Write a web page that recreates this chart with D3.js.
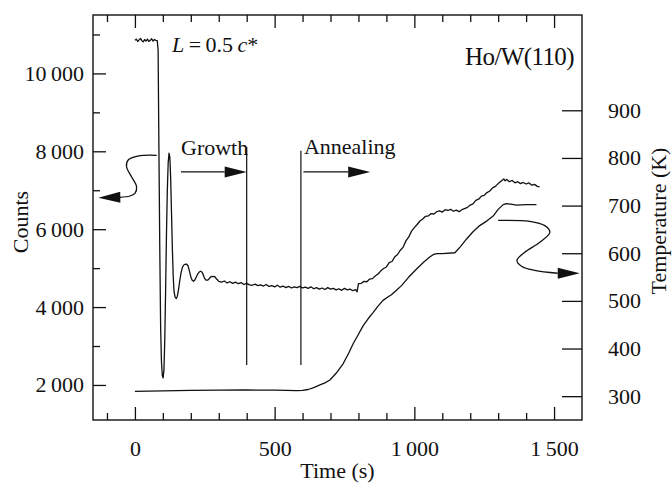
<!DOCTYPE html>
<html><head><meta charset="utf-8">
<script src="https://cdn.jsdelivr.net/npm/d3@7"></script>
<style>
html,body{margin:0;padding:0;background:#fff;}
svg{display:block;font-family:"Liberation Serif","Times New Roman",Times,serif;}
</style></head>
<body><svg id="chart" width="672" height="484"></svg>
<script>
// ---------- data ----------
const xTicksMajor = [0, 500, 1000, 1500];
const xTicksMinor = [-100, 100, 200, 300, 400, 600, 700, 800, 900, 1100, 1200, 1300, 1400];
const countTicksMajor = [2000, 4000, 6000, 8000, 10000];
const countTicksMinor = [3000, 5000, 7000, 9000, 11000];
const tempTicks = [300, 400, 500, 600, 700, 800, 900];

const countTimes = [0,5,10,15,20,25,30,35,40,45,50,55,60,65,70,75,80,
  83,86,89,92,95,98,101,104,107,110,113,116,119,122,125,128,131,134,137,140,144,148,
  152,156,160,165,170,175,180,185,190,195,200,205,210,215,220,225,230,235,240,245,250,255,260,265,270,275,280,285,290,295,
  300,310,320,330,340,350,360,370,380,390,400,410,420,430,440,450,460,470,480,490,
  500,510,520,530,540,550,560,570,580,590,600,610,620,630,640,650,660,670,680,690,
  700,710,720,730,740,750,760,770,780,790,795,
  800,810,820,830,840,850,860,870,880,890,900,910,920,930,940,950,960,970,980,990,
  1000,1010,1020,1030,1040,1050,1060,1070,1080,1090,1100,1110,1120,1130,1140,1150,1160,1170,1180,1190,
  1200,1210,1220,1230,1240,1250,1260,1270,1280,1290,1300,1310,1320,1325,1330,1340,1350,1360,1370,1380,1390,
  1400,1410,1420,1430,1440,1448];
const countValues = [10850,10880,10820,10860,10900,10840,10810,10870,10830,10880,10820,10850,10890,10830,10870,10850,10840,
  10600,8000,5500,3500,2600,2250,2180,2400,3200,4500,5900,7000,7700,7950,7850,7300,6400,5500,4800,4400,4250,4220,
  4280,4450,4650,4880,5020,5080,5100,5100,5060,4930,4780,4690,4660,4700,4780,4850,4900,4920,4900,4820,4730,4690,4690,4720,4770,4790,4780,4790,4740,4700,
  4660,4640,4670,4620,4650,4610,4640,4600,4630,4580,4610,4570,4560,4590,4550,4570,4540,4580,4530,4550,
  4520,4560,4510,4540,4500,4530,4490,4520,4500,4530,4490,4510,4480,4520,4470,4500,4460,4490,4450,4500,
  4460,4480,4440,4470,4430,4480,4440,4460,4420,4450,4390,
  4600,4610,4660,4650,4720,4730,4800,4850,4930,4990,5030,5140,5170,5290,5350,5460,5540,5700,5800,5950,
  6040,6120,6210,6260,6330,6340,6400,6390,6450,6470,6440,6500,6480,6510,6460,6490,6450,6500,6530,6560,
  6620,6650,6740,6770,6850,6870,6940,6980,7060,7100,7170,7230,7290,7240,7280,7220,7250,7190,7220,7170,7200,
  7160,7190,7130,7150,7100,7090];

const tempTimes = [0,100,200,300,400,500,580,600,620,640,660,680,698,720,745,765,781,800,817,835,853,870,888,905,918,935,954,980,1008,1035,1055,1067,1080,1100,1145,1165,1187,1210,1234,1260,1282,1300,1318,1330,1345,1366,1400,1437];
const tempValues = [310,311,312,312.5,313,312.5,311.5,312,314,318,323,328,334,348,368,390,410,430,448,463,476,489,501,508,513,522,532,550,567,582,592,597,599,599,601,614,630,645,658,668,678,692,702,704,703,701,702,702];

// annotations (time, counts) / (time, K)
const growthArrow = [[165, 7470], [400, 7470]];
const annealArrow = [[603, 7470], [842, 7470]];
const phaseLines = [[400, 2510, 8110], [594, 2510, 8015]];
const leftCurl = [[78,7897],[18,7887],[-24,7777],[-30,7604],[-12,7348],[6,7091],[0,6922],[-18,6852],[-54,6819]];
const leftCurlTip = [-131, 6810];
const rightCurl = [[1300,669],[1413,667],[1467,658],[1485,644],[1449,623],[1395,602],[1367,585],[1385,572],[1431,564],[1513,558]];
const rightCurlTip = [1592, 558];

// ---------- drawing ----------
const svg = d3.select("#chart");
const X0 = 93, X1 = 582, Y0 = 15, Y1 = 420;
const x = d3.scaleLinear().domain([-150, 1600]).range([X0, X1]);
const yC = d3.scaleLinear().domain([1100, 11500]).range([Y1, Y0]);
const yT = d3.scaleLinear().domain([250, 1100]).range([Y1, Y0]);

const loc = d3.formatLocale({decimal: ".", thousands: "\u2009", grouping: [3], currency: ["", ""]});
const fmt = loc.format(",");
const FS = 22;
const ink = "#111";
const FONT = "'Liberation Serif','Times New Roman',Times,serif";

function styleAxis(g) {
  g.attr("font-family", FONT);
  g.select(".domain").remove();
  g.selectAll(".tick line").attr("stroke", ink).attr("stroke-width", 1.3);
  g.selectAll(".tick text").attr("font-size", FS).attr("fill", ink);
}

// bottom
svg.append("g").attr("transform", `translate(0,${Y1})`)
  .call(d3.axisBottom(x).tickValues(xTicksMajor).tickSize(-13).tickPadding(20).tickFormat(fmt)).call(styleAxis);
svg.append("g").attr("transform", `translate(0,${Y1})`)
  .call(d3.axisBottom(x).tickValues(xTicksMinor).tickSize(-7).tickFormat("")).call(styleAxis);
// top
svg.append("g").attr("transform", `translate(0,${Y0})`)
  .call(d3.axisTop(x).tickValues(xTicksMajor).tickSize(-13).tickFormat("")).call(styleAxis);
svg.append("g").attr("transform", `translate(0,${Y0})`)
  .call(d3.axisTop(x).tickValues(xTicksMinor).tickSize(-7).tickFormat("")).call(styleAxis);
// left
svg.append("g").attr("transform", `translate(${X0},0)`)
  .call(d3.axisLeft(yC).tickValues(countTicksMajor).tickSize(-13).tickPadding(9).tickFormat(fmt)).call(styleAxis);
svg.append("g").attr("transform", `translate(${X0},0)`)
  .call(d3.axisLeft(yC).tickValues(countTicksMinor).tickSize(-7).tickFormat("")).call(styleAxis);
// right
svg.append("g").attr("transform", `translate(${X1},0)`)
  .call(d3.axisRight(yT).tickValues(tempTicks).tickSize(-20).tickPadding(26).tickFormat(d3.format("d"))).call(styleAxis);

// frame
svg.append("rect").attr("x", X0).attr("y", Y0).attr("width", X1 - X0).attr("height", Y1 - Y0)
  .attr("fill", "none").attr("stroke", ink).attr("stroke-width", 1.4);

// curves
const lineC = d3.line().x((d, i) => x(countTimes[i])).y(d => yC(d));
svg.append("path").datum(countValues).attr("d", lineC)
  .attr("fill", "none").attr("stroke", ink).attr("stroke-width", 1.3).attr("stroke-linejoin", "round");
const lineT = d3.line().x((d, i) => x(tempTimes[i])).y(d => yT(d));
svg.append("path").datum(tempValues).attr("d", lineT)
  .attr("fill", "none").attr("stroke", ink).attr("stroke-width", 1.3).attr("stroke-linejoin", "round");

// phase lines
phaseLines.forEach(([t, c0, c1]) => {
  svg.append("line").attr("x1", x(t)).attr("x2", x(t)).attr("y1", yC(c0)).attr("y2", yC(c1))
    .attr("stroke", ink).attr("stroke-width", 1.2);
});

// arrowhead helper (pixel tip, direction from previous point)
function arrowHead(tipPx, fromPx, len, half) {
  const dx = tipPx[0] - fromPx[0], dy = tipPx[1] - fromPx[1];
  const L = Math.hypot(dx, dy), ux = dx / L, uy = dy / L;
  const bx = tipPx[0] - ux * len, by = tipPx[1] - uy * len;
  svg.append("path")
    .attr("d", `M${tipPx[0]},${tipPx[1]}L${bx - uy * half},${by + ux * half}L${bx + uy * half},${by - ux * half}Z`)
    .attr("fill", ink);
  return [bx, by];
}
[growthArrow, annealArrow].forEach(a => {
  const p0 = [x(a[0][0]), yC(a[0][1])], p1 = [x(a[1][0]), yC(a[1][1])];
  const b = arrowHead(p1, p0, 22, 5.5);
  svg.append("line").attr("x1", p0[0]).attr("y1", p0[1]).attr("x2", b[0]).attr("y2", b[1])
    .attr("stroke", ink).attr("stroke-width", 1.3);
});

// curly arrows
const curl = d3.line().curve(d3.curveCatmullRom.alpha(0.5));
const lc = leftCurl.map(d => [x(d[0]), yC(d[1])]);
svg.append("path").attr("d", curl(lc)).attr("fill", "none").attr("stroke", ink).attr("stroke-width", 1.3);
arrowHead([x(leftCurlTip[0]), yC(leftCurlTip[1])], lc[lc.length - 1], 22, 5.5);
const rc = rightCurl.map(d => [x(d[0]), yT(d[1])]);
svg.append("path").attr("d", curl(rc)).attr("fill", "none").attr("stroke", ink).attr("stroke-width", 1.3);
arrowHead([x(rightCurlTip[0]), yT(rightCurlTip[1])], rc[rc.length - 1], 22, 5.5);

// texts
const txt = (s, px, py, opts = {}) => svg.append("text").attr("x", px).attr("y", py)
  .attr("font-size", opts.size || FS).attr("fill", ink).attr("text-anchor", opts.anchor || "start").text(s);

txt("Growth", x(165), yC(7900));
txt("Annealing", x(605), yC(7930));
txt("Ho/W(110)", 574, 65, {size: 25, anchor: "end"}).attr("letter-spacing", -0.6);

const lt = svg.append("text").attr("x", 172).attr("y", 52).attr("font-size", FS).attr("fill", ink);
lt.append("tspan").attr("font-style", "italic").text("L");
lt.append("tspan").text("\u2009=\u20090.5\u2009");
lt.append("tspan").attr("font-style", "italic").text("c");
lt.append("tspan").text("*");

txt("Time (s)", (X0 + X1) / 2, 478, {anchor: "middle"});
svg.append("text").attr("transform", "translate(28,222) rotate(-90)").attr("text-anchor", "middle")
  .attr("font-size", FS).attr("fill", ink).text("Counts");
svg.append("text").attr("transform", "translate(666,221) rotate(-90)").attr("text-anchor", "middle")
  .attr("font-size", FS).attr("fill", ink).text("Temperature (K)");
</script></body></html>
